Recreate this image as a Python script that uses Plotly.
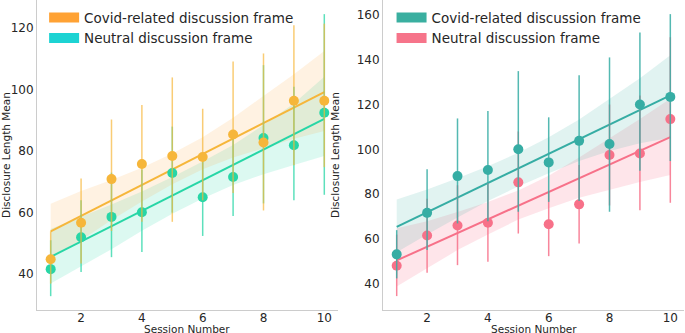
import numpy as np
import plotly.graph_objects as go

sessions = [1, 2, 3, 4, 5, 6, 7, 8, 9, 10]
x_ticks = [2, 4, 6, 8, 10]
left_y_ticks = [40, 60, 80, 100, 120]
right_y_ticks = [40, 60, 80, 100, 120, 140, 160]

# ---- Left panel ----
left_covid_mean = [44.8, 56.7, 70.9, 75.8, 78.4, 78.1, 85.4, 82.8, 96.4, 96.4]
left_covid_hi = [53.9, 71.1, 90.3, 95.0, 104.0, 93.8, 109.2, 111.8, 121.0, 121.5]
left_covid_lo = [36.9, 43.4, 54.0, 57.0, 57.0, 64.0, 66.4, 60.7, 75.4, 74.8]
left_neutral_mean = [41.6, 52.0, 58.6, 60.1, 72.9, 65.0, 71.6, 84.3, 81.9, 92.5]
left_neutral_hi = [51.0, 64.0, 73.0, 74.0, 88.0, 79.0, 86.0, 108.0, 101.0, 124.6]
left_neutral_lo = [32.8, 40.7, 45.5, 47.2, 60.0, 52.4, 58.9, 63.0, 64.0, 65.8]
left_covid_band_hi = [62.9, 67.0, 70.6, 74.6, 79.2, 84.5, 90.9, 98.0, 105.0, 112.6]
left_covid_band_lo = [44.9, 51.0, 57.6, 63.6, 69.2, 74.1, 77.9, 81.0, 84.0, 86.6]
left_neutral_band_hi = [54.7, 58.7, 62.6, 66.9, 71.6, 76.6, 82.0, 88.5, 95.5, 104.2]
left_neutral_band_lo = [36.9, 42.4, 48.1, 54.1, 59.6, 64.6, 69.0, 72.5, 75.5, 78.4]

# ---- Right panel ----
right_covid_mean = [53.2, 71.7, 88.1, 90.8, 100.1, 94.2, 103.8, 102.4, 120.0, 123.4]
right_covid_hi = [64.0, 91.2, 113.8, 117.1, 134.9, 114.3, 133.1, 141.0, 152.1, 160.3]
right_covid_lo = [42.5, 55.1, 67.0, 68.0, 72.2, 76.6, 77.0, 72.2, 90.5, 94.8]
right_neutral_mean = [48.1, 61.6, 66.1, 67.3, 85.3, 66.6, 75.5, 97.5, 98.2, 113.5]
right_neutral_hi = [62.0, 78.0, 84.0, 85.0, 108.0, 81.0, 93.0, 120.0, 124.0, 150.0]
right_neutral_lo = [34.6, 45.0, 48.4, 49.9, 62.5, 52.4, 58.1, 75.0, 72.9, 76.2]
right_covid_band_hi = [77.7, 82.1, 87.1, 92.5, 98.5, 105.4, 113.3, 122.3, 131.7, 142.0]
right_covid_band_lo = [54.2, 62.1, 69.6, 77.0, 83.5, 89.4, 94.8, 99.3, 102.7, 105.2]
right_neutral_band_hi = [64.9, 68.0, 72.1, 76.6, 81.7, 88.3, 96.4, 105.0, 113.5, 122.6]
right_neutral_band_lo = [38.9, 47.0, 55.1, 62.1, 68.7, 73.8, 78.4, 82.0, 85.5, 88.6]

legend_labels = ["Covid-related discussion frame", "Neutral discussion frame"]
x_title = "Session Number"
y_title = "Disclosure Length Mean"

TXT = "#262626"
SPINE = "#cccccc"
FONT = "DejaVu Sans"

fig = go.Figure()


def add_band(lo, hi, fill, xa, ya):
    fig.add_trace(go.Scatter(
        x=sessions + sessions[::-1], y=hi + lo[::-1], fill="toself",
        fillcolor=fill, line=dict(width=0), mode="lines",
        hoverinfo="skip", showlegend=False, xaxis=xa, yaxis=ya))


def add_fit(means, color, xa, ya):
    slope, icpt = np.polyfit(sessions, means, 1)
    xs = [sessions[0], sessions[-1]]
    fig.add_trace(go.Scatter(
        x=xs, y=[icpt + slope * v for v in xs], mode="lines",
        line=dict(color=color, width=2), showlegend=False, xaxis=xa, yaxis=ya))


def add_points(means, lo, hi, color, bar_color, xa, ya):
    fig.add_trace(go.Scatter(
        x=sessions, y=means, mode="markers",
        marker=dict(color=color, size=10),
        error_y=dict(type="data", symmetric=False,
                     array=[h - m for h, m in zip(hi, means)],
                     arrayminus=[m - l for m, l in zip(means, lo)],
                     color=bar_color, thickness=1.5, width=0),
        cliponaxis=False,
        showlegend=False, xaxis=xa, yaxis=ya))


def add_legend_entry(name, color, legend):
    fig.add_trace(go.Scatter(
        x=[None], y=[None], mode="lines", name=name,
        line=dict(color=color, width=10), legend=legend,
        xaxis="x", yaxis="y"))


# Left colours
L_OR = "#F6B63A"
L_TE = "#27D6A6"
add_band(left_neutral_band_lo, left_neutral_band_hi, "rgba(40,215,170,0.16)", "x", "y")
add_band(left_covid_band_lo, left_covid_band_hi, "rgba(255,165,50,0.14)", "x", "y")
add_fit(left_neutral_mean, L_TE, "x", "y")
add_fit(left_covid_mean, L_OR, "x", "y")
add_points(left_neutral_mean, left_neutral_lo, left_neutral_hi, L_TE, "rgba(39,214,166,0.75)", "x", "y")
add_points(left_covid_mean, left_covid_lo, left_covid_hi, L_OR, "rgba(246,182,58,0.7)", "x", "y")

# Right colours
R_TE = "#36ADA4"
R_PK = "#F77189"
add_band(right_neutral_band_lo, right_neutral_band_hi, "rgba(247,113,137,0.18)", "x2", "y2")
add_band(right_covid_band_lo, right_covid_band_hi, "rgba(54,173,164,0.15)", "x2", "y2")
add_fit(right_neutral_mean, R_PK, "x2", "y2")
add_fit(right_covid_mean, R_TE, "x2", "y2")
add_points(right_neutral_mean, right_neutral_lo, right_neutral_hi, R_PK, "rgba(247,113,137,0.85)", "x2", "y2")
add_points(right_covid_mean, right_covid_lo, right_covid_hi, R_TE, "rgba(54,173,164,0.85)", "x2", "y2")

add_legend_entry(legend_labels[0], "#FFA234", "legend")
add_legend_entry(legend_labels[1], "#1DD3D3", "legend")
add_legend_entry(legend_labels[0], "#3AAFA0", "legend2")
add_legend_entry(legend_labels[1], "#F6748A", "legend2")

axis_common = dict(showline=True, linecolor=SPINE, linewidth=1, showgrid=False,
                   zeroline=False, ticks="", automargin=False,
                   tickfont=dict(size=12, color=TXT, family=FONT))

yt = dict(text=y_title, font=dict(size=10.5, color=TXT))

fig.update_layout(
    width=685, height=333,
    margin=dict(l=37, r=1, t=0, b=23),
    plot_bgcolor="white", paper_bgcolor="white",
    font=dict(family=FONT, color=TXT),
    xaxis=dict(domain=[0, 0.4652], range=[0.55, 10.45], tickvals=x_ticks,
               anchor="y", ticklabelstandoff=-3, **axis_common),
    yaxis=dict(range=[28.3, 129.2], tickvals=left_y_ticks, anchor="x",
               title=yt, **axis_common),
    xaxis2=dict(domain=[0.5348, 1.0], range=[0.55, 10.45], tickvals=x_ticks,
                anchor="y2", ticklabelstandoff=-3, **axis_common),
    yaxis2=dict(range=[28.4, 166.6], tickvals=right_y_ticks, anchor="x2",
                title=yt, **axis_common),
    legend=dict(x=0.011, y=0.993, xanchor="left", yanchor="top",
                bgcolor="rgba(0,0,0,0)", font=dict(size=13.5, color=TXT, family=FONT)),
    legend2=dict(x=0.548, y=0.993, xanchor="left", yanchor="top",
                 bgcolor="rgba(0,0,0,0)", font=dict(size=13.5, color=TXT, family=FONT)),
)

for dom in ([0, 0.4652], [0.5348, 1.0]):
    fig.add_annotation(text=x_title, xref="paper", yref="paper",
                       x=(dom[0] + dom[1]) / 2, y=-0.0625, xanchor="center",
                       yanchor="middle", showarrow=False,
                       font=dict(size=10.5, color=TXT, family=FONT))

fig.write_html("out.html", config={"displayModeBar": False},
               post_script="document.body.style.margin='0';document.body.style.padding='0';")
